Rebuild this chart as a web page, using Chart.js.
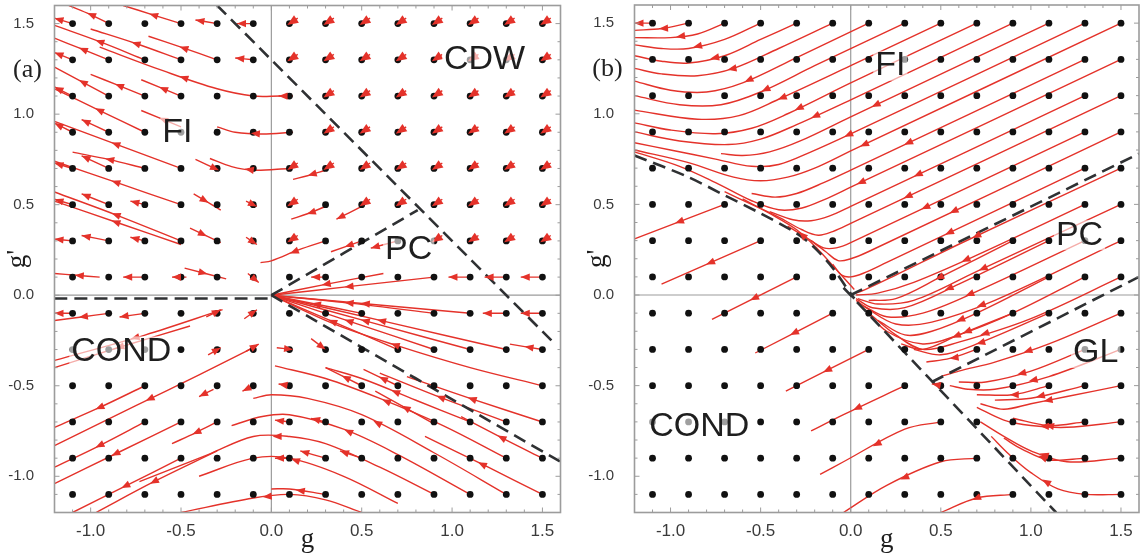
<!DOCTYPE html>
<html><head><meta charset="utf-8">
<script src="https://cdn.jsdelivr.net/npm/chart.js@4/dist/chart.umd.min.js"></script>
<style>
html,body{margin:0;padding:0;background:#fff;}
body{width:1143px;height:556px;overflow:hidden;position:relative;}
canvas{position:absolute;top:0;}
</style></head><body>
<canvas id="ca" width="572" height="556" style="left:0px"></canvas>
<canvas id="cb" width="563" height="556" style="left:580px"></canvas>
<script>
// ---------- data ----------
const tickValues = [-1.0, -0.5, 0.0, 0.5, 1.0, 1.5];
const dotXs = [-1.1, -0.9, -0.7, -0.5, -0.3, -0.1, 0.1, 0.3, 0.5, 0.7, 0.9, 1.1, 1.3, 1.5];
const dotYs = [-1.1, -0.9, -0.7, -0.5, -0.3, -0.1, 0.1, 0.3, 0.5, 0.7, 0.9, 1.1, 1.3, 1.5];

// panel (a): phase boundaries
const leftBoundaries = [
  [[-1.2,-0.018],[0,-0.018]],
  [[0,0],[0.81,0.47]],
  [[-0.3,1.6],[1.57,-0.27]],
  [[0,0],[1.6,-0.92]]
];
// panel (b): phase boundaries
const rightBoundaries = [
  [[-1.2,0.77],[-0.9,0.65],[-0.7,0.55],[-0.5,0.45],[-0.3,0.34],[-0.2,0.26],[-0.1,0.15],[-0.03,0.05],[0.02,-0.02]],
  [[-0.04,0.04],[1.14,-1.2]],
  [[0,0],[1.6,0.78]],
  [[0.45,-0.48],[1.6,0.1]]
];

// panel (a): flow lines (start -> end)
const leftFlows = [
  [[-0.1,1.5],[-0.19,1.5]],
  [[-0.3,1.5],[-0.42,1.52]],
  [[-0.5,1.5],[-0.66,1.55],[-0.82,1.6]],
  [[-0.9,1.5],[-1.0,1.55],[-1.12,1.6]],
  [[-1.1,1.5],[-1.2,1.53]],
  [[-0.1,1.3],[-0.2,1.31]],
  [[-0.3,1.3],[-0.5,1.37],[-0.68,1.43]],
  [[-0.5,1.3],[-0.75,1.39],[-1.0,1.47]],
  [[-0.7,1.3],[-0.95,1.4],[-1.2,1.49]],
  [[-0.9,1.3],[-1.05,1.36],[-1.2,1.42]],
  [[-1.1,1.3],[-1.2,1.34]],
  [[0.05,1.1],[-0.1,1.1],[-0.3,1.14],[-0.6,1.24],[-0.95,1.37]],
  [[-0.5,1.1],[-0.72,1.19]],
  [[-0.7,1.1],[-0.85,1.16],[-1.0,1.22]],
  [[-0.9,1.1],[-1.05,1.18],[-1.2,1.26]],
  [[-1.1,1.1],[-1.2,1.15]],
  [[0.12,0.9],[-0.05,0.89],[-0.2,0.9],[-0.3,0.93]],
  [[-0.5,0.93],[-0.72,1.02]],
  [[-0.7,0.9],[-0.95,1.02],[-1.2,1.14]],
  [[-0.9,0.9],[-1.05,0.97]],
  [[-1.1,0.9],[-1.2,0.95]],
  [[0.1,0.7],[-0.1,0.69],[-0.22,0.71],[-0.34,0.755]],
  [[-0.5,0.7],[-0.85,0.83],[-1.2,0.96]],
  [[-0.7,0.7],[-0.9,0.75],[-1.1,0.79]],
  [[-0.9,0.7],[-1.05,0.77]],
  [[-1.1,0.7],[-1.2,0.73]],
  [[-0.5,0.5],[-0.85,0.62],[-1.2,0.74]],
  [[-0.9,0.5],[-1.05,0.56]],
  [[-0.7,0.5],[-0.78,0.52]],
  [[-1.1,0.5],[-1.2,0.53]],
  [[-0.5,0.3],[-0.85,0.44],[-1.2,0.57]],
  [[-0.5,0.28],[-0.85,0.4],[-1.2,0.52]],
  [[-0.9,0.3],[-1.05,0.33]],
  [[-0.7,0.3],[-0.78,0.32]],
  [[-1.1,0.3],[-1.2,0.31]],
  [[-0.7,0.1],[-0.82,0.1]],
  [[-0.95,0.1],[-1.08,0.11],[-1.2,0.12]],
  [[-0.47,0.1],[-0.55,0.1]],
  [[-0.42,0.75],[-0.29,0.69]],
  [[-0.43,0.56],[-0.28,0.47]],
  [[-0.45,0.37],[-0.28,0.29]],
  [[-0.48,0.15],[-0.25,0.09]],
  [[-0.14,0.52],[-0.08,0.49]],
  [[-0.14,0.32],[-0.08,0.28]],
  [[-0.13,0.12],[-0.07,0.07]],
  [[0.3,0.69],[0.2,0.66],[0.12,0.64]],
  [[0.3,0.49],[0.2,0.45],[0.11,0.42]],
  [[0.5,0.49],[0.43,0.455],[0.36,0.42]],
  [[0.3,0.3],[0.15,0.25],[0.0,0.19],[-0.06,0.18]],
  [[0.5,0.3],[0.33,0.24]],
  [[0.7,0.3],[0.55,0.26]],
  [[1.1,0.1],[0.98,0.1]],
  [[1.3,0.1],[1.18,0.1]],
  [[1.5,0.1],[1.38,0.1]],
  [[0.9,0.1],[0.45,0.05],[0.0,0.0]],
  [[0.62,0.12],[0.3,0.06],[0.0,0.0]],
  [[1.3,-0.1],[1.17,-0.1]],
  [[1.5,-0.1],[1.38,-0.1]],
  [[1.1,-0.1],[0.55,-0.05],[0.0,0.0]],
  [[0.9,-0.1],[0.45,-0.045],[0.0,0.0]],
  [[0.5,-0.1],[0.25,-0.05],[0.0,0.0]],
  [[1.5,-0.3],[1.32,-0.27]],
  [[1.3,-0.3],[0.65,-0.15],[0.0,0.0]],
  [[1.1,-0.3],[0.55,-0.15],[0.0,0.0]],
  [[0.9,-0.3],[0.45,-0.15],[0.0,0.0]],
  [[0.7,-0.3],[0.35,-0.15],[0.0,0.0]],
  [[1.5,-0.5],[1.1,-0.4],[0.7,-0.28],[0.35,-0.16],[0.0,0.0]],
  [[0.03,-0.29],[0.12,-0.3]],
  [[0.22,-0.24],[0.3,-0.3]],
  [[1.5,-0.7],[1.1,-0.57],[0.75,-0.45]],
  [[1.3,-0.7],[0.95,-0.57],[0.6,-0.43]],
  [[1.1,-0.7],[0.8,-0.58],[0.5,-0.46],[0.3,-0.4]],
  [[0.7,-0.5],[0.51,-0.41]],
  [[0.5,-0.5],[0.3,-0.4]],
  [[0.9,-0.71],[0.575,-0.53]],
  [[1.5,-0.9],[1.3,-0.8],[1.05,-0.67]],
  [[1.3,-0.9],[0.95,-0.72],[0.6,-0.57],[0.3,-0.46],[0.02,-0.39]],
  [[1.5,-1.1],[1.2,-0.95],[0.85,-0.78]],
  [[1.3,-1.1],[0.9,-0.87],[0.5,-0.66],[0.2,-0.57],[0.0,-0.55],[-0.1,-0.57]],
  [[1.1,-1.1],[0.7,-0.88],[0.4,-0.74],[0.1,-0.66],[-0.05,-0.67],[-0.22,-0.72]],
  [[0.9,-1.1],[0.6,-0.95],[0.3,-0.82],[0.1,-0.78],[-0.1,-0.78],[-0.35,-0.88],[-0.73,-1.03]],
  [[0.7,-1.15],[0.4,-1.0],[0.1,-0.9],[-0.1,-0.9],[-0.4,-1.0]],
  [[0.3,-1.1],[0.1,-1.07],[0.0,-1.07]],
  [[0.5,-1.2],[0.3,-1.13],[0.1,-1.1],[-0.1,-1.12],[-0.5,-1.2]],
  [[0.1,-0.7],[0.02,-0.69]],
  [[0.3,-0.7],[0.22,-0.68]],
  [[0.3,-0.9],[0.16,-0.86]],
  [[0.5,-0.9],[0.38,-0.86]],
  [[0.1,-0.9],[0.02,-0.9]],
  [[0.1,-0.5],[0.04,-0.49]],
  [[-0.27,-0.08],[-0.7,-0.22],[-1.2,-0.36]],
  [[-0.45,-0.17],[-0.85,-0.29],[-1.2,-0.4]],
  [[-0.08,-0.28],[-0.4,-0.44],[-0.75,-0.61],[-1.2,-0.83]],
  [[-0.7,-0.5],[-0.95,-0.62],[-1.2,-0.73]],
  [[-0.5,-0.7],[-0.85,-0.87],[-1.2,-1.04]],
  [[-0.7,-0.7],[-0.95,-0.83],[-1.2,-0.95]],
  [[-0.3,-0.7],[-0.42,-0.76],[-0.55,-0.82]],
  [[-0.5,-0.9],[-0.8,-1.05],[-1.1,-1.2]],
  [[-0.3,-0.86],[-0.65,-1.03],[-0.97,-1.2]],
  [[-0.7,-0.1],[-0.84,-0.12]],
  [[-0.9,-0.1],[-1.05,-0.12],[-1.2,-0.14]],
  [[-1.1,-0.1],[-1.2,-0.1]],
  [[-0.32,-0.52],[-0.4,-0.56]],
  [[-0.1,-0.5],[-0.16,-0.53]],
  [[-0.36,-0.12],[-0.28,-0.08]],
  [[-0.15,-0.13],[-0.08,-0.08]],
  [[-0.35,-0.33],[-0.28,-0.29]],
  [[-0.14,-0.31],[-0.07,-0.27]],
  [[0.12,1.1],[0.04,1.1]],
  [[0.3,0.1],[0.22,0.1]]
];
// panel (a): short wedge arrows on the CDW side, listed as dot positions
const leftWedgeDots = [
  [0.1,1.5],[0.3,1.5],[0.5,1.5],[0.7,1.5],[0.9,1.5],[1.1,1.5],[1.3,1.5],[1.5,1.5],
  [0.1,1.3],[0.3,1.3],[0.5,1.3],[0.7,1.3],[0.9,1.3],[1.1,1.3],[1.3,1.3],[1.5,1.3],
  [0.3,1.1],[0.5,1.1],[0.7,1.1],[0.9,1.1],[1.1,1.1],[1.3,1.1],[1.5,1.1],
  [0.3,0.9],[0.5,0.9],[0.7,0.9],[0.9,0.9],[1.1,0.9],[1.3,0.9],[1.5,0.9],
  [0.3,0.7],[0.5,0.7],[0.7,0.7],[0.9,0.7],[1.1,0.7],[1.3,0.7],[1.5,0.7],
  [0.5,0.5],[0.7,0.5],[0.9,0.5],[1.1,0.5],[1.3,0.5],[1.5,0.5],
  [0.9,0.3],[1.1,0.3],[1.3,0.3],[1.5,0.3],
  [0.1,0.7],[0.1,0.5],[0.1,0.3]
];
// wedge tail/tip offsets from its dot: [tailDx, tailDy, tipDx, tipDy]
const wedgeSpan = [0.046, 0.03, -0.012, -0.008];

// panel (b): flow lines (start -> end)
const rightFlows = [
  [[-1.1,1.5],[-1.2,1.5]],
  [[-0.9,1.5],[-1.05,1.47],[-1.2,1.46]],
  [[-0.7,1.5],[-0.85,1.44],[-1.0,1.42],[-1.2,1.42]],
  [[-0.5,1.5],[-0.7,1.41],[-0.9,1.36],[-1.05,1.36],[-1.2,1.38]],
  [[-0.3,1.5],[-0.5,1.41],[-0.7,1.32],[-0.9,1.28],[-1.05,1.29],[-1.2,1.32]],
  [[-0.1,1.5],[-0.4,1.36],[-0.65,1.25],[-0.85,1.21],[-1.05,1.22],[-1.2,1.25]],
  [[0.1,1.5],[-0.3,1.31],[-0.6,1.17],[-0.8,1.12],[-1.0,1.13],[-1.2,1.18]],
  [[0.3,1.5],[-0.2,1.265],[-0.5,1.12],[-0.72,1.05],[-0.95,1.05],[-1.2,1.1]],
  [[0.5,1.5],[0,1.265],[-0.4,1.08],[-0.62,0.99],[-0.85,0.97],[-1.2,1.02]],
  [[0.7,1.5],[0,1.17],[-0.35,1.0],[-0.55,0.92],[-0.75,0.89],[-1.0,0.91],[-1.2,0.95]],
  [[0.9,1.5],[0,1.077],[-0.3,0.94],[-0.5,0.86],[-0.68,0.83],[-0.95,0.85],[-1.2,0.9]],
  [[1.1,1.5],[0,0.983],[-0.28,0.85],[-0.45,0.79],[-0.6,0.77],[-0.72,0.78]],
  [[1.3,1.5],[0,0.889],[-0.22,0.79],[-0.4,0.72],[-0.55,0.71],[-0.75,0.75],[-1.0,0.8],[-1.2,0.84]],
  [[1.5,1.5],[0,0.795],[-0.2,0.7],[-0.35,0.65],[-0.5,0.63],[-0.65,0.65],[-0.9,0.73],[-1.2,0.8]],
  [[1.3,1.3],[0,0.689],[-0.15,0.62],[-0.3,0.56],[-0.42,0.54],[-0.55,0.56]],
  [[1.5,1.3],[0,0.595],[-0.15,0.525],[-0.27,0.48],[-0.4,0.47],[-0.55,0.52],[-0.75,0.62],[-0.95,0.71],[-1.2,0.79]],
  [[1.3,1.1],[0,0.489],[-0.12,0.435],[-0.22,0.41],[-0.32,0.415],[-0.45,0.46]],
  [[1.5,1.1],[0,0.395],[-0.1,0.35],[-0.18,0.33],[-0.27,0.36],[-0.4,0.43],[-0.55,0.5],[-0.7,0.57]],
  [[1.3,0.9],[0,0.289],[-0.08,0.26],[-0.15,0.26],[-0.25,0.32],[-0.35,0.38]],
  [[1.5,0.9],[0.1,0.24],[0,0.2],[-0.07,0.19],[-0.14,0.24],[-0.22,0.3]],
  [[1.3,0.7],[0.2,0.18],[0.07,0.12],[0.0,0.1],[-0.05,0.11],[-0.1,0.17]],
  [[0.02,0.03],[-0.08,0.14],[-0.18,0.25],[-0.3,0.36],[-0.45,0.45],[-0.6,0.53]],
  [[1.5,0.7],[0.6,0.28],[0.25,0.11],[0.08,0.03],[0.0,0.0]],
  [[1.5,0.5],[0.7,0.13],[0.35,-0.03],[0.15,-0.05],[0.04,-0.02]],
  [[1.3,0.5],[0.7,0.22],[0.35,0.07],[0.15,0.01],[0.03,0.0]],
  [[1.5,0.3],[0.8,-0.03],[0.45,-0.15],[0.25,-0.16],[0.1,-0.08],[0.03,-0.03]],
  [[1.3,0.3],[0.7,0.02],[0.4,-0.1],[0.2,-0.12],[0.07,-0.06]],
  [[1.1,0.3],[0.6,0.06],[0.3,-0.07],[0.12,-0.07],[0.03,-0.02]],
  [[0.9,0.3],[0.5,0.1],[0.25,-0.02],[0.1,-0.03]],
  [[1.5,0.1],[1.0,-0.13],[0.6,-0.26],[0.4,-0.3],[0.25,-0.22],[0.1,-0.1]],
  [[1.3,0.1],[0.9,-0.1],[0.6,-0.22],[0.4,-0.27],[0.2,-0.2],[0.08,-0.08]],
  [[1.1,0.1],[0.7,-0.1],[0.45,-0.2],[0.3,-0.22],[0.15,-0.14]],
  [[0.9,-0.1],[0.6,-0.22],[0.4,-0.3],[0.28,-0.27]],
  [[1.1,-0.1],[0.7,-0.27],[0.5,-0.33],[0.35,-0.3]],
  [[0.7,-0.3],[0.55,-0.35],[0.42,-0.37]],
  [[1.5,-0.1],[1.1,-0.27],[0.8,-0.37],[0.6,-0.42],[0.5,-0.45]],
  [[1.5,-0.3],[1.1,-0.45],[0.8,-0.52],[0.65,-0.52],[0.55,-0.5]],
  [[1.3,-0.3],[1.0,-0.42],[0.75,-0.48],[0.6,-0.48]],
  [[1.5,-0.5],[1.2,-0.56],[1.0,-0.6],[0.85,-0.63],[0.72,-0.6]],
  [[1.3,-0.5],[1.0,-0.57],[0.8,-0.58]],
  [[1.1,-0.5],[0.9,-0.55],[0.7,-0.55]],
  [[1.5,-0.7],[1.2,-0.73],[1.0,-0.72],[0.85,-0.69],[0.7,-0.62]],
  [[1.3,-0.7],[1.1,-0.72],[0.9,-0.68]],
  [[1.5,-0.9],[1.2,-0.92],[1.0,-0.86],[0.85,-0.78],[0.72,-0.7]],
  [[1.3,-0.9],[1.1,-0.91],[0.95,-0.85],[0.85,-0.79]],
  [[1.5,-1.1],[1.3,-1.1],[1.15,-1.07],[1.0,-0.98],[0.88,-0.88],[0.78,-0.78]],
  [[0.5,-0.5],[0.45,-0.49]],
  [[0.1,-0.3],[-0.36,-0.53]],
  [[0.3,-0.5],[-0.04,-0.66],[-0.22,-0.75]],
  [[0.5,-0.7],[0.3,-0.74],[-0.04,-0.92],[-0.17,-0.99]],
  [[0.7,-0.9],[0.5,-0.92],[0.2,-1.05],[-0.04,-1.2]],
  [[0.9,-1.1],[0.7,-1.12],[0.5,-1.2]],
  [[-0.1,-0.1],[-0.53,-0.32]],
  [[-0.3,0.1],[-0.77,-0.135]],
  [[-0.5,0.3],[-1.05,0.06]],
  [[-0.7,0.5],[-1.2,0.31]]
];

// region labels
const leftRegionNames = ['FI','CDW','PC','COND'];
const leftRegionAt = [[-0.52,0.9],[1.18,1.3],[0.76,0.254],[-0.83,-0.31]];
const rightRegionNames = ['FI','PC','GL','COND'];
const rightRegionAt = [[0.22,1.265],[1.27,0.33],[1.36,-0.32],[-0.84,-0.727]];

// ---------- drawing ----------
const RED = '#e4322a';
function toXY(line){ return line.map(p => ({x:p[0], y:p[1]})); }

function flowDataset(line, arrowAt, wide){
  return {type:'scatter', data:toXY(line), showLine:true, pointRadius:0, borderColor:RED,
          borderWidth:1.4, tension:0.35, order:2, arrowAt: arrowAt || [0.55], wide: !!wide, fill:false};
}
function dashDataset(line){
  return {type:'scatter', data:toXY(line), showLine:true, pointRadius:0, borderColor:'#2f3133',
          borderWidth:2.6, borderDash:[13,7], tension:0.3, order:1, fill:false};
}
function dotDataset(){
  const pts = [];
  dotYs.forEach(y => dotXs.forEach(x => pts.push({x, y})));
  return {type:'scatter', data:pts, pointRadius:3.4, pointBackgroundColor:'#111', pointBorderWidth:0,
          showLine:false, order:0};
}

const arrowPlugin = {
  id:'arrowHeads',
  afterDatasetsDraw(chart){
    const ctx = chart.ctx, xs = chart.scales.x, ys = chart.scales.y, a = chart.chartArea;
    ctx.save();
    ctx.beginPath(); ctx.rect(a.left, a.top, a.right-a.left, a.bottom-a.top); ctx.clip();
    ctx.fillStyle = RED;
    chart.data.datasets.forEach(ds => {
      if (!ds.arrowAt) return;
      const P = ds.data.map(p => [xs.getPixelForValue(p.x), ys.getPixelForValue(p.y)]);
      const L = [0];
      for (let i=1;i<P.length;i++) L.push(L[i-1] + Math.hypot(P[i][0]-P[i-1][0], P[i][1]-P[i-1][1]));
      const total = L[L.length-1];
      if (total <= 0) return;
      const fr = total < 30 ? [1] : ds.arrowAt;
      fr.forEach(f => {
        const t = f*total;
        let i = 1;
        while (i < P.length-1 && L[i] < t) i++;
        const seg = L[i]-L[i-1] || 1;
        const u = Math.min(1, Math.max(0, (t-L[i-1])/seg));
        const x = P[i-1][0] + u*(P[i][0]-P[i-1][0]);
        const y = P[i-1][1] + u*(P[i][1]-P[i-1][1]);
        const ang = Math.atan2(P[i][1]-P[i-1][1], P[i][0]-P[i-1][0]);
        const HL = ds.wide ? 11 : 9, HW = ds.wide ? 4.4 : 3.6, c = Math.cos(ang), s = Math.sin(ang);
        ctx.beginPath();
        ctx.moveTo(x, y);
        ctx.lineTo(x - HL*c + HW*s, y - HL*s - HW*c);
        ctx.lineTo(x - HL*c - HW*s, y - HL*s + HW*c);
        ctx.closePath(); ctx.fill();
      });
    });
    ctx.restore();
  }
};

const framePlugin = {
  id:'frame',
  beforeDatasetsDraw(chart){
    const ctx = chart.ctx, xs = chart.scales.x, ys = chart.scales.y, a = chart.chartArea;
    ctx.save();
    ctx.strokeStyle = '#9c9c9c'; ctx.lineWidth = 1.2;
    const x0 = xs.getPixelForValue(0), y0 = ys.getPixelForValue(0);
    ctx.beginPath(); ctx.moveTo(x0, a.top); ctx.lineTo(x0, a.bottom);
    ctx.moveTo(a.left, y0); ctx.lineTo(a.right, y0); ctx.stroke();
    ctx.restore();
  },
  afterDraw(chart){
    const ctx = chart.ctx, xs = chart.scales.x, ys = chart.scales.y, a = chart.chartArea;
    const o = chart.options.plugins.frame;
    ctx.save();
    ctx.strokeStyle = '#9c9c9c'; ctx.lineWidth = 1.6;
    ctx.strokeRect(a.left, a.top, a.right-a.left, a.bottom-a.top);
    ctx.lineWidth = 1;
    ctx.beginPath();
    for (let k=-12; k<=16; k++){
      const v = k/10, major = (k % 5 === 0), len = major ? 5 : 3;
      const px = xs.getPixelForValue(v), py = ys.getPixelForValue(v);
      if (px > a.left+1 && px < a.right-1){
        ctx.moveTo(px, a.bottom); ctx.lineTo(px, a.bottom-len);
        ctx.moveTo(px, a.top); ctx.lineTo(px, a.top+len);
      }
      if (py > a.top+1 && py < a.bottom-1){
        ctx.moveTo(a.left, py); ctx.lineTo(a.left+len, py);
        ctx.moveTo(a.right, py); ctx.lineTo(a.right-len, py);
      }
    }
    ctx.stroke();
    // region labels on a faint veil (marks under them look greyed, as in the reference)
    ctx.font = '34px "Liberation Sans", Arial, sans-serif';
    ctx.textAlign = 'center'; ctx.textBaseline = 'middle';
    o.names.forEach((n,i) => {
      const px = xs.getPixelForValue(o.at[i][0]), py = ys.getPixelForValue(o.at[i][1]);
      const w = ctx.measureText(n).width;
      ctx.fillStyle = 'rgba(255,255,255,0.6)';
      ctx.fillRect(px - w/2 - 2, py - 15, w + 4, 30);
      ctx.fillStyle = '#1e1e1e';
      ctx.fillText(n, px, py);
    });
    // panel tag
    ctx.font = '26px "Liberation Serif", "Times New Roman", serif';
    ctx.fillStyle = '#222';
    ctx.fillText(o.tag, a.left - 27, ys.getPixelForValue(1.245));
    ctx.restore();
  }
};

function makeChart(id, flows, bounds, wedges, names, at, tag, padTop, padRight){
  const datasets = [dotDataset()];
  bounds.forEach(b => datasets.push(dashDataset(b)));
  flows.forEach(f => datasets.push(flowDataset(f)));
  wedges.forEach(d => datasets.push(flowDataset(
    [[d[0]+wedgeSpan[0], d[1]+wedgeSpan[1]], [d[0]+wedgeSpan[2], d[1]+wedgeSpan[3]]], [1], true)));
  return new Chart(document.getElementById(id), {
    type:'scatter',
    data:{datasets},
    plugins:[framePlugin, arrowPlugin],
    options:{
      responsive:false, animation:false, devicePixelRatio:1, events:[],
      layout:{padding:{top:padTop, right:padRight, left:0, bottom:0}},
      plugins:{legend:{display:false}, tooltip:{enabled:false},
               frame:{names, at, tag}},
      scales:{
        x:{type:'linear', min:-1.2, max:1.6,
           afterBuildTicks: s => { s.ticks = tickValues.map(v => ({value:v})); },
           afterFit: s => { s.height = 43.5; s.paddingLeft = 0; s.paddingRight = 0; },
           grid:{display:false}, border:{display:false},
           ticks:{font:{family:'"Liberation Sans", Arial, sans-serif', size:17}, color:'#3a3a3a', padding:1,
                  maxRotation:0, autoSkip:false, callback: v => Number(v).toFixed(1)},
           title:{display:true, text:'g', color:'#1e1e1e',
                  font:{family:'"Liberation Serif", "Times New Roman", serif', size:27}, padding:{top:0,bottom:0}}},
        y:{type:'linear', min:-1.2, max:1.6,
           afterBuildTicks: s => { s.ticks = tickValues.map(v => ({value:v})); },
           afterFit: s => { s.width = 54.5; s.paddingTop = 0; s.paddingBottom = 0; },
           grid:{display:false}, border:{display:false},
           ticks:{font:{family:'"Liberation Sans", Arial, sans-serif', size:15}, color:'#3a3a3a', padding:12.5,
                  autoSkip:false, callback: v => Number(v).toFixed(1)},
           title:{display:true, text:"g'", color:'#1e1e1e',
                  font:{family:'"Liberation Serif", "Times New Roman", serif', size:27}, padding:{top:2,bottom:0}}}
      }
    }
  });
}

makeChart('ca', leftFlows, leftBoundaries, leftWedgeDots, leftRegionNames, leftRegionAt, '(a)', 5.5, 11.5);
makeChart('cb', rightFlows, rightBoundaries, [], rightRegionNames, rightRegionAt, '(b)', 5, 3);
</script>
</body></html>
